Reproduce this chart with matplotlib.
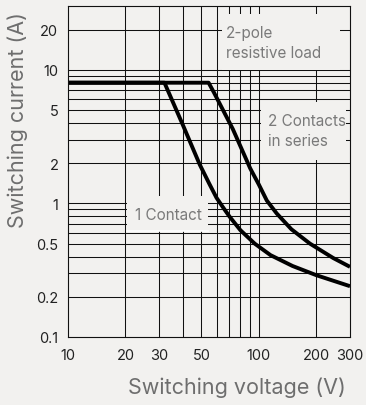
import matplotlib
matplotlib.use('Agg')
import matplotlib.pyplot as plt
from matplotlib.patches import Rectangle

# ----------------------------
# datos
# ----------------------------
one_v = [10, 32, 40, 49, 55, 60, 65, 70, 80, 95, 115, 150, 200, 300]
one_i = [8, 8, 3.85, 1.95, 1.4, 1.1, 0.93, 0.8, 0.63, 0.5, 0.41, 0.34, 0.29, 0.24]

two_v = [10, 54.5, 58, 73, 90, 100, 110, 124, 148, 185, 245, 300]
two_i = [8, 8, 6.8, 3.6, 1.83, 1.38, 1.05, 0.84, 0.64, 0.5, 0.39, 0.335]

grid_v = [20, 30, 40, 50, 60, 70, 80, 90, 100, 200]
grid_i = [0.2, 0.3, 0.4, 0.5, 0.6, 0.7, 0.8, 0.9,
          1, 2, 3, 4, 5, 6, 7, 8, 9, 10, 20]

xticks = [10, 20, 30, 50, 100, 200, 300]
xlabels = ['10', '20', '30', '50', '100', '200', '300']
yticks = [0.1, 0.2, 0.5, 1, 2, 5, 10, 20]
ylabels = ['0.1', '0.2', '0.5', '1', '2', '5', '10', '20']

BG = '#f2f1ef'
TXT = '#7a7a7a'

plt.rcParams['font.family'] = ['Inter', 'DejaVu Sans']

fig = plt.figure(figsize=(3.66, 4.06), dpi=100, facecolor=BG)
ax = fig.add_axes([68/366, 68/406, 282/366, 331/406])
ax.set_facecolor(BG)
ax.set_xscale('log')
ax.set_yscale('log')
ax.set_xlim(10, 300)
ax.set_ylim(0.1, 30)

# rejilla
for v in grid_v:
    ax.axvline(v, color='#111111', lw=0.75, zorder=1)
for i in grid_i:
    ax.axhline(i, color='#111111', lw=0.75, zorder=1)

# cajas de etiquetas (tapan la rejilla), en pixeles de la figura
def box(x0, y0, x1, y1, white_bottom=False):
    fx0 = (x0 - 68) / 282
    fx1 = (x1 - 68) / 282
    fy0 = (338 - y1) / 331
    fy1 = (338 - y0) / 331
    ax.add_patch(Rectangle((fx0, fy0), fx1 - fx0, fy1 - fy0,
                           transform=ax.transAxes, facecolor=BG,
                           edgecolor='none', zorder=2))
    if white_bottom:
        ax.plot([fx0, fx1], [fy0, fy0], color='white', lw=1.2,
                transform=ax.transAxes, zorder=2)

box(222, 15, 340, 71)
box(261, 103, 346, 161)
box(127, 197, 208, 232, white_bottom=True)

ax.text((226 - 68) / 282, (338 - 26) / 331, '2-pole\nresistive load',
        transform=ax.transAxes, ha='left', va='top', fontsize=11,
        color=TXT, linespacing=1.4, zorder=4)
ax.text((268 - 68) / 282, (338 - 114) / 331, '2 Contacts\nin series',
        transform=ax.transAxes, ha='left', va='top', fontsize=11,
        color=TXT, linespacing=1.4, zorder=4)
ax.text((135 - 68) / 282, (338 - 208) / 331, '1 Contact',
        transform=ax.transAxes, ha='left', va='top', fontsize=11,
        color=TXT, zorder=4)

# curvas
ax.plot(one_v, one_i, color='black', lw=2.8, solid_capstyle='butt',
        solid_joinstyle='round', zorder=3)
ax.plot(two_v, two_i, color='black', lw=2.8, solid_capstyle='butt',
        solid_joinstyle='round', zorder=3)

for s in ax.spines.values():
    s.set_color('#111111')
    s.set_linewidth(0.8)
    s.set_zorder(5)

ax.set_xticks(xticks)
ax.set_xticklabels(xlabels)
ax.set_yticks(yticks)
ax.set_yticklabels(ylabels)
ax.minorticks_off()
ax.tick_params(axis='both', length=0, labelsize=10.5, colors='#222222')
ax.tick_params(axis='x', pad=8)
ax.tick_params(axis='y', pad=7)

fig.text(18/366, 1 - 120/406, 'Switching current (A)', rotation=90,
         ha='center', va='center', fontsize=15.5, color='#6e6e6e')
fig.text(237/366, 1 - 388/406, 'Switching voltage (V)',
         ha='center', va='center', fontsize=15.5, color='#6e6e6e')

fig.savefig('out.png', dpi=100, facecolor=BG)
